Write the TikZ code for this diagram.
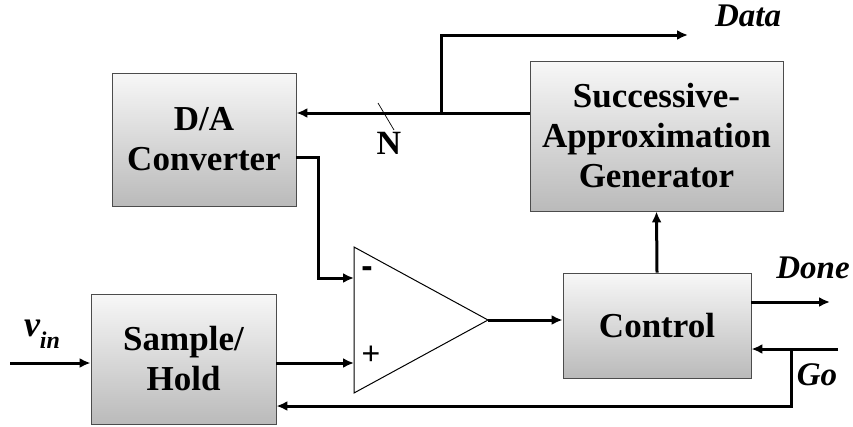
\documentclass[tikz,border=0pt]{standalone}
\usepackage{fontspec}
\setmainfont{Liberation Serif}
\newfontfamily\plusfont{Liberation Sans}
\usetikzlibrary{arrows.meta,calc}
\begin{document}
\begin{tikzpicture}[x=1pt, y=-1pt,
  block/.style={draw=black!70, line width=0.9pt, top color=black!3, bottom color=black!27, align=center, inner sep=0pt, font=\fontsize{35}{40}\selectfont\bfseries},
  sig/.style={line width=3pt, -{Latex[length=11pt,width=10pt]}},
  lbl/.style={font=\fontsize{33}{38}\selectfont\bfseries\itshape, inner sep=0pt}]
\useasboundingbox (0,0) rectangle (853,426);

\node (da) at (204,139.5) [block, minimum width=184pt, minimum height=133pt] {D/A\\Converter};
\node (sa) at (656.5,136) [block, minimum width=253pt, minimum height=150pt] {Successive-\\Approximation\\Generator};
\node (ctrl) at (657,325.5) [block, minimum width=188pt, minimum height=105pt] {Control};
\node (sh) at (183.5,359) [block, minimum width=185pt, minimum height=130pt] {Sample/\\Hold};

% comparator
\coordinate (minus) at (354,278);
\coordinate (plus) at (354,363);
\coordinate (cmpout) at (488,320);
\draw[line width=1pt] (354,247) -- (cmpout) -- (354,393) -- cycle;
\node (mlbl) at (367,272) [font=\fontsize{34}{34}\selectfont\plusfont\bfseries] {-};
\node (plbl) at (371,355) [font=\fontsize{32}{32}\selectfont\plusfont] {+};

% N-bit bus and data output
\coordinate (bus) at (530,113);
\coordinate (tap) at (441,113);
\coordinate (data) at (688,35);
\draw[sig] (sa.west |- bus) -- (da.east |- bus);
\draw[sig] (tap) |- (data);
\draw[line width=0.7pt] (378,103) -- (394,130);
\node (nlbl) at (389,143) [font=\fontsize{34}{38}\selectfont\bfseries, inner sep=0pt] {N};
\node (datalbl) at (748,16) [lbl] {Data};

% D/A to comparator
\coordinate (daout) at (318,157);
\draw[sig] (da.east |- daout) -- (daout) |- (minus);
\draw[sig] (sh.east |- plus) -- (plus);

% input
\coordinate (vin) at (10,363);
\draw[sig] (vin) -- (sh.west |- vin);
\node (vinlbl) at (42,334) [lbl] {\fontsize{36}{38}\selectfont v\raisebox{-0.32em}{\fontsize{24}{26}\selectfont in}};

% comparator to control, control to generator
\draw[sig] (cmpout) -- (ctrl.west |- cmpout);
\draw[sig] (ctrl.north) -- (sa.south);

% done and go
\coordinate (done) at (830,302);
\coordinate (go) at (838,349);
\coordinate (gotap) at (791,349);
\coordinate (back) at (791,406);
\draw[sig] (ctrl.east |- done) -- (done);
\node (donelbl) at (813,268) [lbl] {Done};
\draw[sig] (go) -- (ctrl.east |- go);
\draw[sig] (gotap) |- (sh.east |- back);
\node (golbl) at (817,375) [lbl] {Go};
\end{tikzpicture}
\end{document}
